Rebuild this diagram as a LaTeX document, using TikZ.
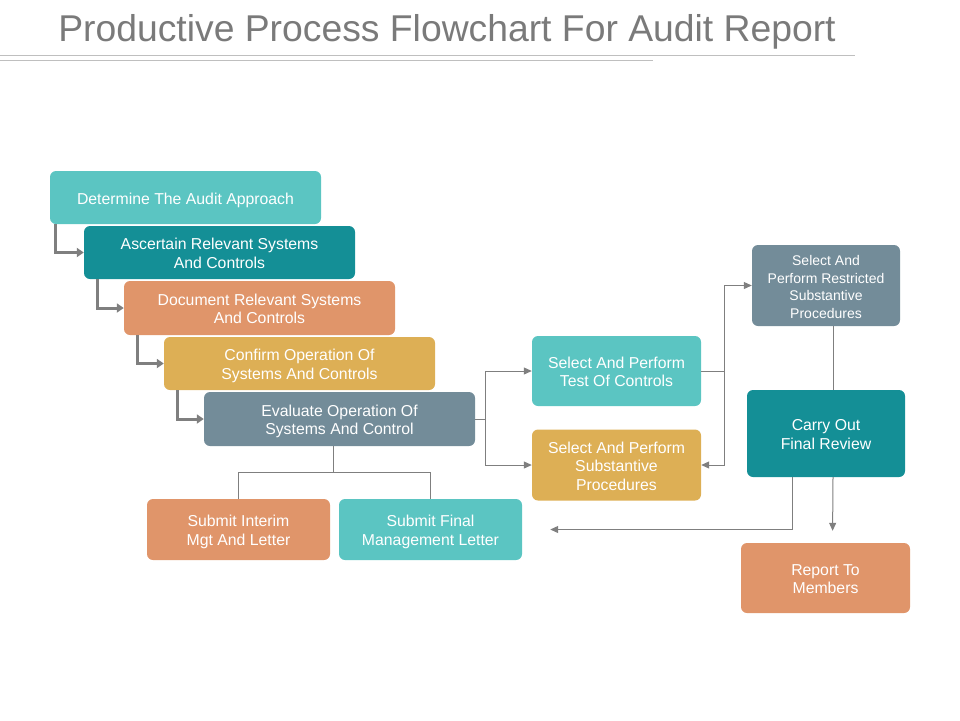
\documentclass[tikz,border=0pt]{standalone}
\usepackage{fontspec}
\setmainfont{Liberation Sans}
\usetikzlibrary{arrows.meta,calc}
\definecolor{cLT}{HTML}{5BC5C2}
\definecolor{cDT}{HTML}{148F96}
\definecolor{cOR}{HTML}{E0956A}
\definecolor{cGD}{HTML}{DDAF55}
\definecolor{cSL}{HTML}{738C99}
\definecolor{cGray}{HTML}{7F7F7F}
\definecolor{cTitle}{HTML}{7A7A7A}
\definecolor{cRule}{HTML}{BFBFBF}
\newcommand\bs{\rule[-3.5pt]{0pt}{20pt}}
\tikzset{
  box/.style={fill=#1, rounded corners=6pt, text=white, align=center,
    font=\fontsize{15.8}{18.5}\selectfont, inner sep=0pt,
    execute at begin node=\bs, execute at end node=\bs},
  small text/.style={font=\fontsize{14}{17.4}\selectfont},
  stair/.style={draw=cGray, line width=3pt, -{Triangle[length=7pt,width=9pt]}},
  conn/.style={draw=cGray, line width=1pt},
  arr/.style={conn, -{Triangle[length=8pt,width=7pt]}}
}
\begin{document}
\begin{tikzpicture}[x=1pt,y=-1pt]
\useasboundingbox (0,0) rectangle (960,720);
\node[text=cTitle, font=\fontsize{37.3}{40}\selectfont] (title) at (447,32) {Productive Process Flowchart For Audit Report};
\draw[cRule, line width=1pt] (0,55) -- (855,55);
\draw[cRule, line width=1pt] (0,60) -- (653,60);

\node[box=cLT, minimum width=271pt, minimum height=53pt] (det) at (185.5,197.5) {Determine The Audit Approach};
\node[box=cDT, minimum width=271pt, minimum height=53pt] (asc) at (219.5,252.5) {\bs Ascertain Relevant Systems\\And Controls};
\node[box=cOR, minimum width=271pt, minimum height=54pt] (doc) at (259.5,308) {\bs Document Relevant Systems\\And Controls};
\node[box=cGD, minimum width=271pt, minimum height=53pt] (con) at (299.5,363.5) {\bs Confirm Operation Of\\Systems And Controls};
\node[box=cSL, minimum width=271pt, minimum height=54pt] (eva) at (339.5,419) {\bs Evaluate Operation Of\\Systems And Control};

\node[box=cLT, minimum width=169pt, minimum height=70pt] (toc) at (616.5,371) {\bs Select And Perform\\Test Of Controls};
\node[box=cGD, minimum width=169pt, minimum height=71pt] (sub) at (616.5,465) {\bs Select And Perform\\Substantive\\Procedures};
\node[box=cSL, small text, minimum width=148pt, minimum height=81pt] (res) at (826,285.5) {\bs Select And\\Perform Restricted\\Substantive\\Procedures};
\node[box=cDT, minimum width=158pt, minimum height=87pt] (car) at (826,433.5) {\bs Carry Out\\Final Review};
\node[box=cOR, minimum width=169pt, minimum height=70pt] (rep) at (825.5,578) {\bs Report To\\Members};
\node[box=cOR, minimum width=183pt, minimum height=61pt] (int) at (238.5,529.5) {\bs Submit Interim\\Mgt And Letter};
\node[box=cLT, minimum width=183pt, minimum height=61pt] (fin) at (430.5,529.5) {\bs Submit Final\\Management Letter};

\draw[stair] ($(det.south west)+(6,0)$) |- (asc.west);
\draw[stair] ($(asc.south west)+(14,0)$) |- (doc.west);
\draw[stair] ($(doc.south west)+(14,0)$) |- (con.west);
\draw[stair] ($(con.south west)+(14,0)$) |- (eva.west);

\draw[arr] (eva.east) -- ++(10,0) |- (toc.west);
\draw[arr] (eva.east) -- ++(10,0) |- (sub.west);
\draw[arr] (toc.east) -- ++(23,0) |- (res.west);
\draw[arr] (toc.east) -- ++(23,0) |- (sub.east);
\draw[conn] ($(res.south)+(7,0)$) -- ($(car.north)+(7,0)$);
\draw[arr, shorten >=12pt] ($(car.south)+(7,0)$) -- ($(rep.north)+(7,0)$);
\draw[arr, shorten >=28pt] ($(car.south)+(-34,0)$) |- (fin.east);
\draw[conn] ($(eva.south)+(-6,0)$) -- ($(eva.south)+(-6,27)$);
\draw[conn] (int.north) -- ++(0,-26) -| (fin.north);
\end{tikzpicture}
\end{document}
